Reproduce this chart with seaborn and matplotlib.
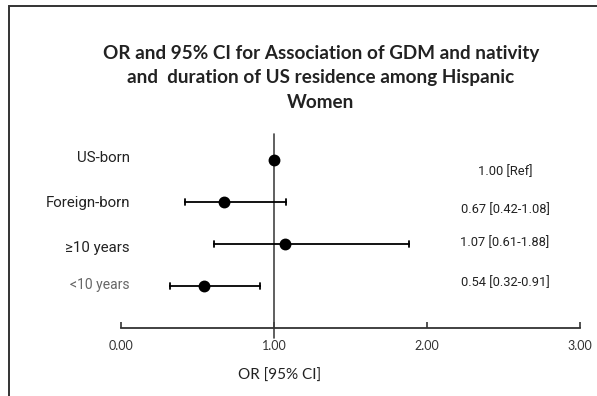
import matplotlib
matplotlib.use("Agg")
import matplotlib.pyplot as plt
import seaborn as sns
import pandas as pd
from matplotlib.patches import Rectangle

# ---- data ----
categories = ["US-born", "Foreign-born", "\u226510 years", "<10 years"]
odds_ratio = [1.00, 0.67, 1.07, 0.54]
ci_low = [1.00, 0.42, 0.61, 0.32]
ci_high = [1.00, 1.08, 1.88, 0.91]
ci_labels = ["1.00 [Ref]", "0.67 [0.42-1.08]", "1.07 [0.61-1.88]", "0.54 [0.32-0.91]"]
label_colors = ["#222222", "#222222", "#222222", "#666666"]
x_ticks = [0, 1, 2, 3]
x_tick_labels = ["0.00", "1.00", "2.00", "3.00"]
title = "OR and 95% CI for Association of GDM and nativity\nand  duration of US residence among Hispanic\nWomen"
x_label = "OR [95% CI]"

# long table: for each category the lower bound, the OR and the upper bound
rows = []
for c, lo, o, hi in zip(categories, ci_low, odds_ratio, ci_high):
    for v in (lo, o, hi):
        rows.append({"group": c, "value": v})
df = pd.DataFrame(rows)

sns.set_theme(style="white")
narrow = ["Roboto", "DejaVu Sans"]
calib = ["Lato", "DejaVu Sans"]

W, H = 597, 396
fig = plt.figure(figsize=(W / 100, H / 100), dpi=100)

# outer frame
fig.patches.append(Rectangle((9 / W, -0.05), 1.2, 1 - 6 / H + 0.05,
                             transform=fig.transFigure, fill=False,
                             edgecolor="#333333", linewidth=1.4))

left, right = 121 / W, 580 / W
top_px, bot_px = 134, 328
ax = fig.add_axes([left, 1 - bot_px / H, right - left, (bot_px - top_px) / H])

sns.pointplot(data=df, x="value", y="group", order=categories,
              estimator="median", errorbar=("pi", 100),
              linestyle="none", color="black", markers="o",
              markersize=6.5, capsize=0.12,
              err_kws={"linewidth": 1.3, "color": "black"}, ax=ax)

# row pixel positions: 160, 201, 243, 286 -> spacing ~42
row0, step = 160, 42
ax.set_ylim((bot_px - row0) / step, (top_px - row0) / step)
ax.set_xlim(0, 3)

ax.axvline(1, ymin=-0.052, ymax=1, color="#444444", linewidth=1.2, clip_on=False, zorder=1)

for s in ["left", "top", "right"]:
    ax.spines[s].set_visible(False)
ax.spines["bottom"].set_color("#333333")
ax.spines["bottom"].set_linewidth(1.3)
ax.set_yticks([])
ax.set_ylabel("")
ax.set_xlabel("")
ax.set_xticks(x_ticks)
ax.set_xticklabels(x_tick_labels, family=calib, fontsize=9, color="#333333")
ax.tick_params(axis="x", direction="in", length=4, width=1.2, color="#333333", pad=9, bottom=True)

# left category labels
label_y = [158, 203, 248, 285]
for i, (c, col, yy) in enumerate(zip(categories, label_colors, label_y)):
    fig.text(130 / W, 1 - yy / H, c, ha="right", va="center",
             family=narrow, fontsize=10.8 if i < 3 else 10, color=col)

# right-side OR labels
right_y = [172, 210, 243, 283]
for lab, yy in zip(ci_labels, right_y):
    fig.text(505 / W, 1 - yy / H, lab, ha="center", va="center",
             family=narrow, fontsize=9.3, color="#222222")

fig.text(321 / W, 1 - 78 / H, title, ha="center", va="center",
         family=calib, fontsize=13.6, fontweight="bold", color="#222222",
         linespacing=1.5)
fig.text(280 / W, 1 - 376 / H, x_label, ha="center", va="center",
         family=calib, fontsize=11, color="#222222")

fig.savefig("out.png", dpi=100)
